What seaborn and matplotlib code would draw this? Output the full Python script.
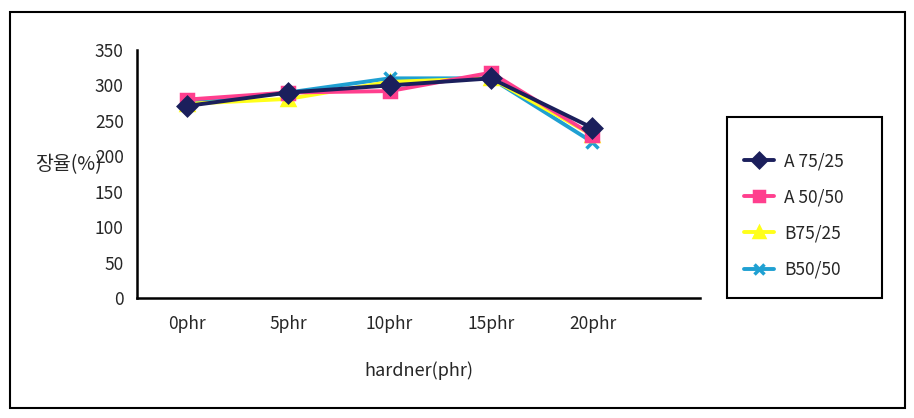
import pandas as pd
import matplotlib.pyplot as plt
import seaborn as sns
from matplotlib.patches import Rectangle

# chart values
categories = ['0phr', '5phr', '10phr', '15phr', '20phr']
a_75_25 = [271, 290, 300, 310, 240]
a_50_50 = [280, 290, 292, 318, 230]
b_75_25 = [274, 281, 305, 310, 230]
b_50_50 = [275, 290, 310, 310, 220]
series_names = ['A 75/25', 'A 50/50', 'B75/25', 'B50/50']

rows = []
for name, vals in zip(series_names, [a_75_25, a_50_50, b_75_25, b_50_50]):
    for cat, v in zip(categories, vals):
        rows.append({'hardner': cat, 'value': v, 'series': name})
df = pd.DataFrame(rows)

sns.set_style('white')
plt.rcParams['font.family'] = ['Noto Sans CJK KR', 'DejaVu Sans']

colors = {'A 75/25': '#1b1f5c', 'A 50/50': '#ff3f8e', 'B75/25': '#ffff1a', 'B50/50': '#1fa0d2'}
markers = {'A 75/25': 'D', 'A 50/50': 's', 'B75/25': '^', 'B50/50': 'x'}

W, H = 914, 418
fig = plt.figure(figsize=(W / 100, H / 100), dpi=100)
ax = fig.add_axes([137 / W, 1 - 298 / H, (700 - 137) / W, (298 - 50) / H])

# draw back to front so navy sits on top like the original
for name in series_names[::-1]:
    sub = df[df['series'] == name]
    sns.lineplot(data=sub, x='hardner', y='value', ax=ax, color=colors[name],
                 marker=markers[name], markersize=9, linewidth=2.8,
                 markeredgecolor=colors[name], markeredgewidth=2.5, label=name,
                 sort=False)

ax.set_xlim(-0.49, 5.06)
ax.set_ylim(0, 350)
ax.set_yticks(range(0, 351, 50))
ax.tick_params(axis='y', direction='inout', length=7, width=1.5, labelsize=12.5, pad=6)
ax.tick_params(axis='x', length=0, labelsize=12.5, pad=12)
for s in ['top', 'right']:
    ax.spines[s].set_visible(False)
for s in ['left', 'bottom']:
    ax.spines[s].set_color('black')
    ax.spines[s].set_linewidth(1.8)

ax.set_xlabel('hardner(phr)', fontsize=13)
ax.xaxis.set_label_coords(0.5, -0.255)
ax.set_ylabel('')
fig.text(68 / W, 1 - 165 / H, '장율(%)', fontsize=14, ha='center', va='center')

handles, labels = ax.get_legend_handles_labels()
order = [labels.index(n) for n in series_names]
leg = ax.legend([handles[i] for i in order], [labels[i] for i in order],
                loc='upper left', bbox_to_anchor=(744 / W, 1 - 152 / H),
                bbox_transform=fig.transFigure, frameon=False,
                fontsize=12.5, labelspacing=1.05, borderpad=0, borderaxespad=0,
                handlelength=1.7, handletextpad=0.6, markerscale=0.8)

# legend box and outer chart border
fig.patches.append(Rectangle((727 / W, 1 - 298 / H), (882 - 727) / W, (298 - 117) / H,
                             transform=fig.transFigure, fill=False,
                             edgecolor='black', linewidth=1.5))
fig.patches.append(Rectangle((10 / W, 1 - 408 / H), (905 - 10) / W, (408 - 12) / H,
                             transform=fig.transFigure, fill=False,
                             edgecolor='black', linewidth=1.5))

fig.savefig('out.png', dpi=100)
